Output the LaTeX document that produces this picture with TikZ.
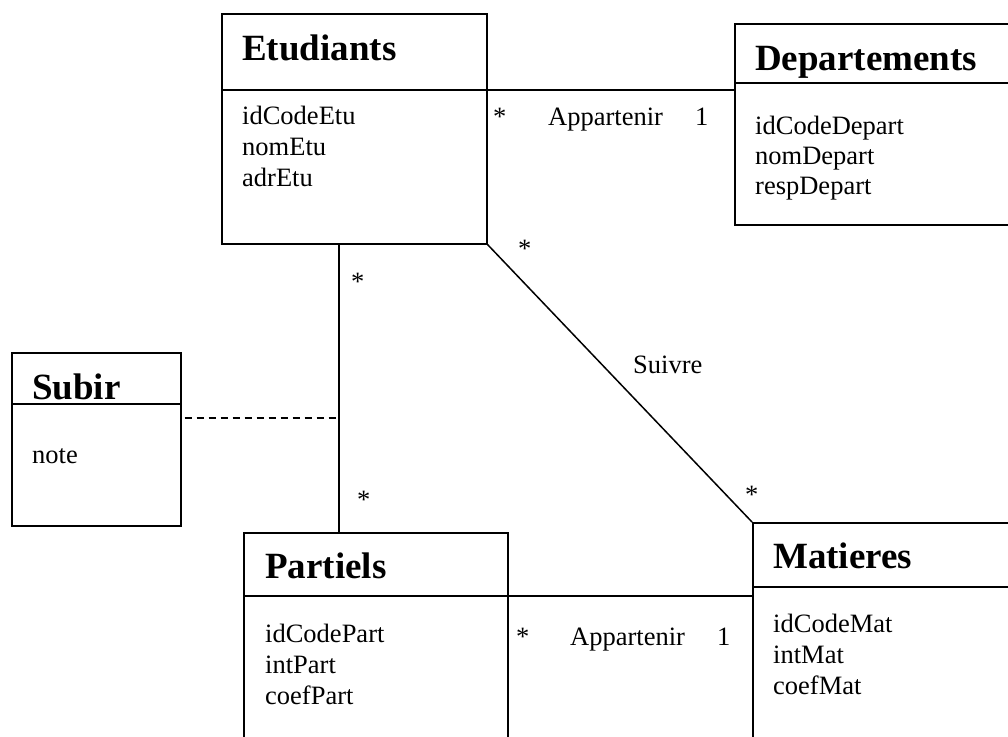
\documentclass[tikz,border=0pt]{standalone}
\usepackage{fontspec}
\setmainfont{Liberation Serif}
\begin{document}
\begin{tikzpicture}[x=1pt,y=-1pt,
  box/.style={draw, line width=1.6pt, rectangle, anchor=north west, inner sep=0pt},
  divline/.style={line width=1.6pt},
  conn/.style={line width=1.5pt},
  ttl/.style={anchor=base west, inner sep=0pt, font=\fontsize{37}{40}\selectfont\bfseries},
  attr/.style={anchor=base west, inner sep=0pt, font=\fontsize{26.5}{30}\selectfont},
  lbl/.style={anchor=base west, inner sep=0pt, font=\fontsize{26.5}{30}\selectfont}]
\useasboundingbox (0,0) rectangle (1008,736);
\begin{scope}
\clip (0,0) rectangle (1008,736);
% boxes
\node[box, minimum width=265pt, minimum height=230pt] (etu) at (221,13) {};
\node[box, minimum width=290pt, minimum height=201pt] (dep) at (734,23) {};
\node[box, minimum width=169pt, minimum height=173pt] (sub) at (11,352) {};
\node[box, minimum width=264pt, minimum height=240pt] (part) at (243,532) {};
\node[box, minimum width=280pt, minimum height=250pt] (mat) at (752,522) {};
% dividers
\draw[divline] (etu.west |- 0,90) -- (etu.east |- 0,90);
\draw[divline] (dep.west |- 0,83) -- (dep.east |- 0,83);
\draw[divline] (sub.west |- 0,404) -- (sub.east |- 0,404);
\draw[divline] (part.west |- 0,596) -- (part.east |- 0,596);
\draw[divline] (mat.west |- 0,587) -- (mat.east |- 0,587);
\end{scope}
% titles
\node[ttl] (tetu) at (242,60) {Etudiants};
\node[ttl] (tdep) at (755,70) {Departements};
\node[ttl] (tsub) at (32,399) {Subir};
\node[ttl] (tpart) at (265,578) {Partiels};
\node[ttl] (tmat) at (773,568) {Matieres};
% attributes
\node[attr] (a1) at (242,124) {idCodeEtu};
\node[attr] (a2) at (242,155) {nomEtu};
\node[attr] (a3) at (242,186) {adrEtu};
\node[attr] (b1) at (755,134) {idCodeDepart};
\node[attr] (b2) at (755,164) {nomDepart};
\node[attr] (b3) at (755,194) {respDepart};
\node[attr] (c1) at (32,463) {note};
\node[attr] (d1) at (265,642) {idCodePart};
\node[attr] (d2) at (265,673) {intPart};
\node[attr] (d3) at (265,704) {coefPart};
\node[attr] (e1) at (773,632) {idCodeMat};
\node[attr] (e2) at (773,663) {intMat};
\node[attr] (e3) at (773,694) {coefMat};
% connectors
\coordinate (jn) at (339,418);
\draw[conn] (etu.east |- 0,90) -- (dep.west |- 0,90);
\draw[conn] (etu.south -| jn) -- (part.north -| jn);
\draw[conn] (etu.south east) -- (mat.north west);
\draw[conn] (part.east |- 0,596) -- (mat.west |- 0,596);
\draw[conn, dash pattern=on 7pt off 5pt] ([xshift=3pt]sub.east |- jn) -- (jn);
% labels
\node[lbl] (l1) at (493,125) {*};
\node[lbl] (l2) at (548,125) {Appartenir};
\node[lbl] (l3) at (695,125) {1};
\node[lbl] (l4) at (518,257) {*};
\node[lbl] (l5) at (633,373) {Suivre};
\node[lbl] (l6) at (745,503) {*};
\node[lbl] (l7) at (351,290) {*};
\node[lbl] (l8) at (357,508) {*};
\node[lbl] (l9) at (516,645) {*};
\node[lbl] (l10) at (570,645) {Appartenir};
\node[lbl] (l11) at (717,645) {1};
\end{tikzpicture}
\end{document}
